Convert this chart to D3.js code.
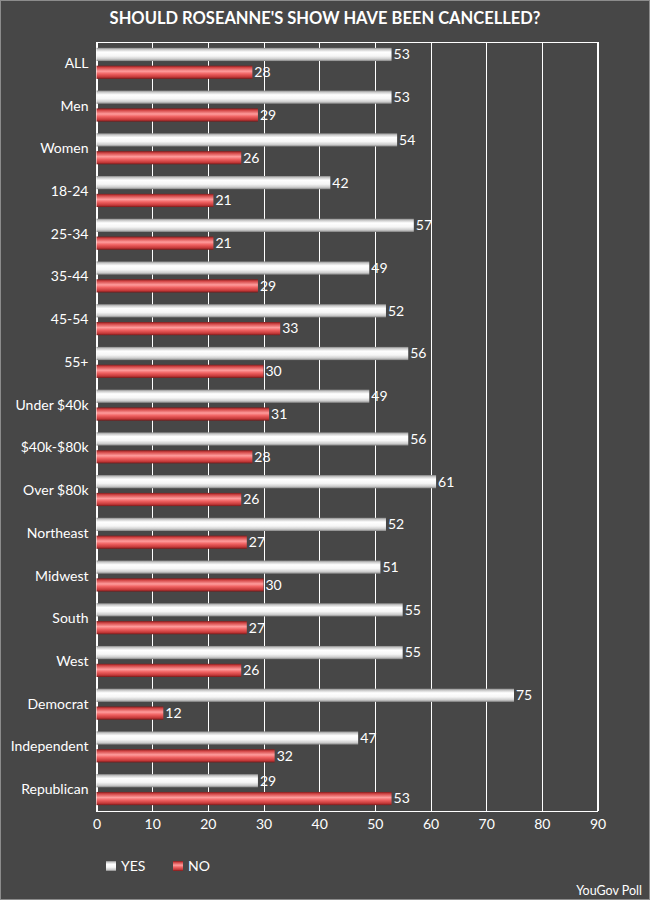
<!DOCTYPE html>
<html>
<head>
<meta charset="utf-8">
<script src="https://cdn.jsdelivr.net/npm/d3@7"></script>
<style>
  body { margin: 0; background: #474747; }
  text { font-family: Lato, "Open Sans", sans-serif; }
</style>
</head>
<body>
<script>
const categories = ["ALL", "Men", "Women", "18-24", "25-34", "35-44", "45-54", "55+",
  "Under $40k", "$40k-$80k", "Over $80k", "Northeast", "Midwest", "South", "West",
  "Democrat", "Independent", "Republican"];
const yesValues = [53, 53, 54, 42, 57, 49, 52, 56, 49, 56, 61, 52, 51, 55, 55, 75, 47, 29];
const noValues = [28, 29, 26, 21, 21, 29, 33, 30, 31, 28, 26, 27, 30, 27, 26, 12, 32, 53];
const seriesNames = ["YES", "NO"];
const xTicks = [0, 10, 20, 30, 40, 50, 60, 70, 80, 90];

function main() {
    const width = 650, height = 900;
    const plot = { left: 96.5, right: 597.5, top: 42, bottom: 811 };

    const svg = d3.select("body").append("svg")
        .attr("width", width)
        .attr("height", height);

    svg.append("rect")
        .attr("x", 0.5).attr("y", 0.5)
        .attr("width", width - 1).attr("height", height - 1)
        .attr("fill", "#474747")
        .attr("stroke", "#8c8c8c");

    const defs = svg.append("defs");
    const grads = {
        YES: [[0, "#8a8a8a"], [0.12, "#c8c8c8"], [0.32, "#ffffff"], [0.62, "#f6f6f6"], [0.85, "#cdcdcd"], [1, "#858585"]],
        NO: [[0, "#7e1c1c"], [0.14, "#d24444"], [0.42, "#ff9c9c"], [0.62, "#f06262"], [0.86, "#c43838"], [1, "#741a1a"]]
    };
    Object.keys(grads).forEach(k => {
        const lg = defs.append("linearGradient")
            .attr("id", "grad" + k)
            .attr("x1", 0).attr("y1", 0).attr("x2", 0).attr("y2", 1);
        grads[k].forEach(s => lg.append("stop").attr("offset", s[0]).attr("stop-color", s[1]));
    });

    svg.append("text")
        .attr("x", 325).attr("y", 24)
        .attr("text-anchor", "middle")
        .attr("fill", "#fff")
        .attr("font-size", "16.5px")
        .attr("font-weight", "bold")
        .text("SHOULD ROSEANNE'S SHOW HAVE BEEN CANCELLED?");

    const x = d3.scaleLinear().domain([0, 90]).range([plot.left, plot.right]);
    const y0 = d3.scaleBand().domain(categories).range([plot.top, plot.bottom])
        .paddingInner(0.274).paddingOuter(0.137);
    const y1 = d3.scaleBand().domain(seriesNames).range([0, y0.bandwidth()]).paddingInner(0.26);

    // grid lines
    svg.append("g").selectAll("line")
        .data(xTicks)
        .enter().append("line")
        .attr("x1", d => Math.round(x(d)) + 0.5)
        .attr("x2", d => Math.round(x(d)) + 0.5)
        .attr("y1", plot.top)
        .attr("y2", plot.bottom)
        .attr("stroke", "#fff");
    svg.append("rect")
        .attr("x", plot.left).attr("y", plot.top + 0.5)
        .attr("width", plot.right - plot.left).attr("height", plot.bottom - plot.top)
        .attr("fill", "none").attr("stroke", "#fff");

    const rows = categories.map((c, i) => ({ cat: c, YES: yesValues[i], NO: noValues[i] }));
    const groups = svg.append("g").selectAll("g")
        .data(rows)
        .enter().append("g")
        .attr("transform", d => `translate(0,${y0(d.cat)})`);

    groups.selectAll("rect")
        .data(d => seriesNames.map(s => ({ s: s, v: d[s] })))
        .enter().append("rect")
        .attr("x", x(0))
        .attr("y", d => y1(d.s))
        .attr("width", d => x(d.v) - x(0))
        .attr("height", y1.bandwidth())
        .attr("fill", d => "url(#grad" + d.s + ")");

    groups.selectAll("text.val")
        .data(d => seriesNames.map(s => ({ s: s, v: d[s] })))
        .enter().append("text")
        .attr("class", "val")
        .attr("x", d => x(d.v) + 2)
        .attr("y", d => y1(d.s) + y1.bandwidth() / 2)
        .attr("dy", "0.35em")
        .attr("fill", "#fff")
        .attr("font-size", "14px")
        .text(d => d.v);

    // category axis
    const yAxis = svg.append("g")
        .attr("transform", `translate(${plot.left},0)`)
        .call(d3.axisLeft(y0).tickSize(0).tickPadding(8));
    yAxis.select(".domain").remove();
    yAxis.selectAll("text")
        .attr("fill", "#fff")
        .attr("font-size", "14px")
        .style("font-family", "Lato, sans-serif");

    const xAxis = svg.append("g")
        .attr("transform", `translate(0,${plot.bottom})`)
        .call(d3.axisBottom(x).tickValues(xTicks).tickSize(0).tickPadding(8));
    xAxis.select(".domain").remove();
    xAxis.selectAll("text")
        .attr("fill", "#fff")
        .attr("font-size", "14px")
        .style("font-family", "Lato, sans-serif");

    // legend
    const legend = svg.append("g").selectAll("g")
        .data(seriesNames)
        .enter().append("g")
        .attr("transform", (d, i) => `translate(${106 + i * 67},861)`);
    legend.append("rect")
        .attr("width", 10).attr("height", 10)
        .attr("fill", d => "url(#grad" + d + ")");
    legend.append("text")
        .attr("x", 15).attr("y", 5)
        .attr("dy", "0.35em")
        .attr("fill", "#fff")
        .attr("font-size", "14px")
        .text(d => d);

    svg.append("text")
        .attr("x", 642).attr("y", 895)
        .attr("text-anchor", "end")
        .attr("fill", "#fff")
        .attr("font-size", "12.5px")
        .text("YouGov Poll");
}

main();
</script>
</body>
</html>
